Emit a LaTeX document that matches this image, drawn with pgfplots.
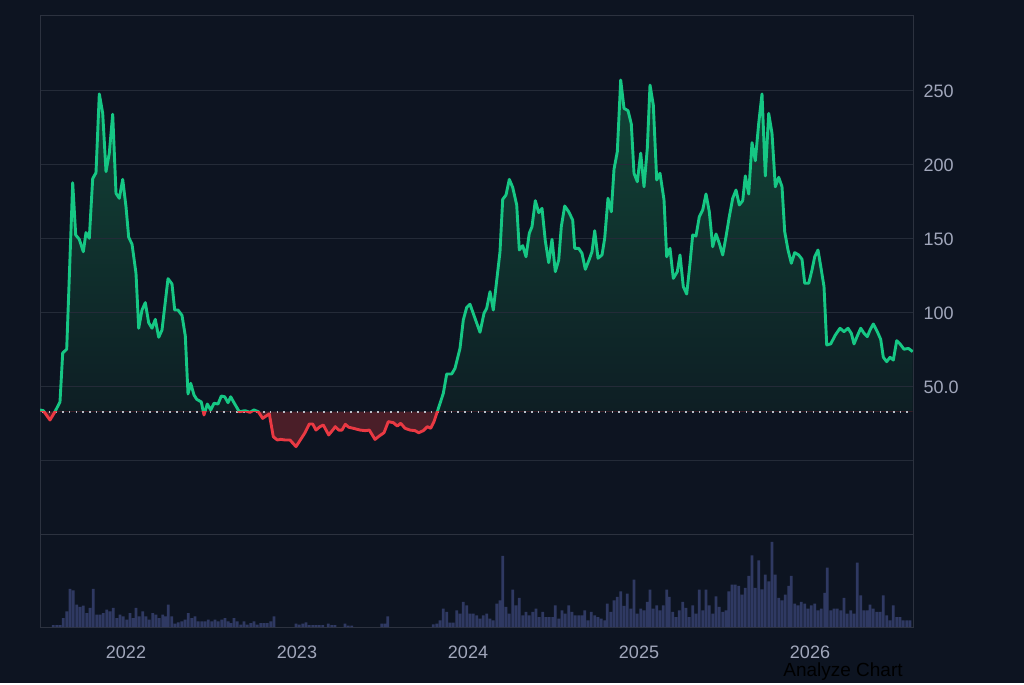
\documentclass[border=0pt]{standalone}
\usepackage{fontspec}
\setmainfont{Liberation Sans}
\usepackage{pgfplots}
\usepackage{pgfplotstable}
\pgfplotsset{compat=1.18}
\definecolor{bg}{RGB}{13,20,33}
\definecolor{gridc}{RGB}{36,43,56}
\definecolor{framec}{RGB}{44,50,63}
\definecolor{lbl}{RGB}{161,167,187}
\definecolor{up}{RGB}{22,199,132}
\definecolor{dn}{RGB}{234,57,67}
\definecolor{upfillA}{RGB}{18,68,55}
\definecolor{upfillB}{RGB}{13,26,34}
\definecolor{dnfill}{RGB}{74,30,40}
\definecolor{vol}{RGB}{47,57,98}
\definecolor{basec}{RGB}{185,190,200}

\pgfplotstableread{
x y
40 34.5
43.3 34.0
50 27.7
55 33.3
60 40.0
62.7 73.0
66.7 75.5
72.7 188.0
75.7 152.7
79.3 149.8
83.3 141.4
86 154.3
89.3 150.5
92.7 190.8
96 194.8
99.3 248.0
102.7 235.0
106 195.5
109.3 208.0
112.7 234.3
116 180.9
119.3 177.5
122.7 190.3
126 171.8
128.7 151.1
132 146.6
136 126.8
138.7 89.7
142 102.0
145.3 107.0
148.7 93.4
152 89.7
155.3 95.7
158.7 83.6
162 88.5
168 123.2
172 119.6
174.7 102.0
178 102.0
182 98.4
185.3 84.5
188 45.3
190.7 52.5
194 44.6
196.7 41.7
201.3 39.9
204 31.1
207.3 38.5
210.7 34.5
214 39.0
218 38.5
221.3 43.9
224.7 43.4
228 39.4
230.7 43.4
234 39.4
239.3 33.3
245 34.0
250 32.9
254 34.5
258.3 33.3
262.7 28.8
266 30.4
269.3 31.8
273.3 16.4
277.3 14.2
280.7 14.6
285 14.2
290 14.2
296 9.7
300.7 14.6
305 19.1
309.3 25.0
312.7 25.0
316 20.9
320 23.2
323.3 24.3
328.7 17.6
332.7 20.9
335.3 23.2
338.7 20.9
342 20.9
345.3 24.8
348.7 22.8
353.3 22.1
360 20.9
365.3 20.5
369.3 20.9
375 14.6
379.3 16.9
384 19.1
388.3 26.6
393.3 25.9
397.3 23.6
400.7 25.5
405 22.1
410 20.9
415 20.5
418.7 19.1
423.3 20.5
427.3 23.2
430.7 22.1
434 26.6
437.3 33.3
443.3 45.7
446.7 58.8
451.7 58.8
455 62.6
460 76.1
463.3 95.3
466.7 103.8
470 105.9
475 96.4
480 87.0
484 99.8
486.7 103.2
490 114.4
493.3 102.0
500 141.4
502.7 176.8
506 179.7
509.3 190.3
512.7 184.9
516.7 173.0
519.3 142.6
522.7 145.5
526 138.0
529.3 153.9
532 158.3
535.3 175.9
538.7 167.8
542 170.7
545.3 148.8
548.7 134.0
552 149.8
555.3 127.9
558.7 135.8
561.3 158.3
564.7 172.3
568.7 168.4
572.7 162.8
574.7 143.7
578.7 143.7
582 140.3
585.3 129.5
589.3 136.3
592 141.4
594.7 155.6
598 137.0
602 139.2
604.7 150.5
608 177.5
611.3 168.4
614 197.1
617.3 209.0
620.7 257.4
624 238.3
628 236.7
631.3 227.7
634 194.4
637.3 188.7
640.7 208.0
644 185.3
647.3 211.3
650 254.0
653.3 240.5
656.7 189.9
660 194.4
664 176.4
666.7 138.0
670 143.7
673.3 123.4
677.3 127.9
680 139.2
683.3 117.8
686.7 112.8
690 133.6
692.7 152.7
696 152.0
699.3 165.1
702.7 169.6
706 180.4
709.3 168.4
712.7 144.8
716 153.4
719.3 147.1
722.7 139.2
726 151.6
729.3 165.1
732.7 177.5
736 183.1
739.3 173.0
742.7 175.9
745.3 192.6
748.7 180.4
752 215.1
755.3 202.9
758.7 228.2
762 248.0
765.3 192.6
768.7 234.9
772 221.4
775.3 185.3
778.7 191.7
782 185.3
784.7 154.9
788 142.6
791.3 133.6
794.7 140.8
798.7 139.2
802 136.3
804.7 120.1
808.7 120.1
812 129.1
814.7 138.0
818 142.6
821.3 129.1
824 117.8
826.7 78.4
830.7 79.1
835.3 85.1
840 89.7
844 87.4
848 89.7
851.3 86.3
854 79.1
857.3 84.5
860.7 89.7
864 86.3
867.3 84.0
870 88.5
873.3 92.6
877.3 87.4
880.7 82.2
883.3 70.1
886.7 67.1
890 70.1
893.3 68.2
896.7 81.3
900 79.1
904 75.5
908.3 76.1
912.7 73.9
}\price

\pgfplotstableread{
x h
53.3 2
56.7 2
60 2
63.3 9
66.7 15.7
70 38
73.3 36.7
76.7 22.3
80 20
83.3 21.3
86.7 14
90 19
93.3 38
96.7 12.3
100 12.3
103.3 14
106.7 17.3
110 15.7
113.3 19
116.7 9
120 12.3
123.3 10.7
126.7 7.3
130 14
133.3 9
136 19
139.3 10.7
142.7 15.7
146 10.7
149.3 7.3
152.7 14
156 12.3
159.3 9
162.7 12.3
165.3 10.7
168.3 22.3
171.7 10.7
175 3.3
178.3 4.7
181.7 5.7
185 7.3
188.3 14
191.7 9
195 10.7
198.3 5.7
201.7 5.7
205 5.7
208.3 7.3
211.7 5.7
215 7.3
218.3 5.7
221.7 7.3
225 9
228.3 5.7
230.7 4
234 9
237.3 5.7
240.7 2.3
244 5.7
247.3 2.3
250.7 4
254 5.7
257.3 2.3
260.7 4
264 4
267.3 4
270.7 5.7
274 10.7
296 3.3
299.3 2.3
302.7 3.3
306 4.7
309.3 2
312.7 2
316 2
319.3 2
322.7 2
328.3 3.3
331.7 2
335 2
345 3.3
348.3 1.3
351.7 1.3
381.7 3.3
385 3.3
387.7 10.7
433.3 2.7
436.7 3.3
440 6.7
443.3 18.3
446.7 15
450 4.3
453.3 4.3
456.7 16.7
460 13.3
463.3 25
466.7 21.7
470 13.3
473.3 13.3
476.7 11.7
480 8.3
483.3 11.7
486.7 13.3
490 8.3
493.3 6.7
496.7 23.3
500 26.7
502.7 71
506 20
509.3 13.3
512.7 37.3
516 21.7
519.3 29
522.7 11.7
526 15
529.3 11.7
532.7 15
536 18.3
539.3 10
542.7 15
546 10
549.3 10
552.7 10
555.3 21.7
558.7 8.3
562 16.7
565.3 13.3
568.7 21.7
572 15
575.3 11.7
578.7 11.7
582 11.7
584.7 16.7
588 6.7
591.3 15
594.7 11.7
598 10
601.3 8.3
604.7 6.7
607.3 23.3
610.7 15
614 26.7
617.3 30
620.7 35.7
624 21
627.3 33.3
630.7 18.3
634 47.3
637.3 13.3
640.7 18.3
644 16.7
647.3 25
650 37.3
653.3 18.3
656.7 21.7
660 16.7
663.3 21.7
666.7 37.3
669.3 30
672.7 15
676 10
679.3 16.7
682.7 25
686 19
689.3 10
692.7 21.7
696 13.3
699.3 37.3
702.7 16.7
706 37.3
709.3 21.7
712.7 13.3
716 30.7
719.3 20
722.7 15
726 16.7
728.7 35.7
732 42.3
735.3 42.3
738.7 41
742 32.3
745.3 39
748.7 51
752 71.7
755.3 39
758.7 66.7
762 37.7
765.3 52.3
768.7 45.7
772 85
775.3 52.3
778.7 29
782 26.7
785.3 32.3
788.7 41
791.3 51
794.7 23.3
798 21.7
801.3 25
804.7 23.3
808 18.3
811.3 21.7
814.7 23.3
818 16.7
821.3 18.3
824.7 34
827.3 59.3
830.7 16.7
834 18.3
837.3 18.3
840.7 16.7
844 29
847.3 13.3
850.7 16.7
854 13.3
857.3 64.3
860.7 31.7
864 16.7
867.3 16.7
870 22.3
873.3 18.3
876.7 15
880 15
883.3 31.7
886.7 11.7
890 6.7
893.3 21.7
896.7 10
900 10
903.3 6.7
906.7 6.7
910 6.7
}\volume

\pgfplotsset{
  base/.style={scale only axis, width=873pt, xmin=40, xmax=913,
    anchor=south west, enlargelimits=false},
  upper/.style={base, hide axis, at={(40pt,271.28pt)}, height=395.72pt,
    ymin=33.3, ymax=300.68},
  lower/.style={base, hide axis, at={(40pt,148pt)}, height=123.28pt,
    ymin=-50, ymax=33.3},
}

\begin{document}
\begin{tikzpicture}
\fill[bg] (0pt,0pt) rectangle (1024pt,683pt);

% green area (above baseline)
\begin{axis}[upper]
\addplot[draw=none, top color=upfillA, bottom color=upfillB]
  table[x=x,y=y] {\price} -- (axis cs:912.7,33.3) -- (axis cs:40,33.3) -- cycle;
\end{axis}
% red area (below baseline)
\begin{axis}[lower]
\addplot[draw=none, fill=dnfill]
  table[x=x,y=y] {\price} -- (axis cs:912.7,33.3) -- (axis cs:40,33.3) -- cycle;
\end{axis}

% price pane: frame, grid, labels, baseline
\begin{axis}[base, at={(40pt,148pt)}, height=519pt,
  ymin=-50, ymax=300.68,
  axis line style={framec, line width=1pt},
  xtick=\empty,
  ytick={0,50,100,150,200,250},
  yticklabels={,50.0,100,150,200,250},
  yticklabel pos=right,
  ymajorgrids, grid style={gridc, line width=1pt},
  ytick style={draw=none},
  /pgf/number format/assume math mode=true,
  yticklabel style={font=\fontsize{18}{21}\selectfont, text=lbl, anchor=west, xshift=7pt}]
\addplot[basec, line width=1.6pt, dash pattern=on 1.6pt off 5.1pt] coordinates {(42,33.3) (911,33.3)};
\end{axis}

% green line
\begin{axis}[upper]
\addplot[up, line width=2.9pt, line join=round] table[x=x,y=y] {\price};
\end{axis}
% red line
\begin{axis}[lower]
\addplot[dn, line width=2.9pt, line join=round] table[x=x,y=y] {\price};
\end{axis}

% volume pane
\begin{axis}[base, at={(40pt,56pt)}, height=92pt,
  ymin=0, ymax=92,
  axis line style={framec, line width=1pt},
  ytick=\empty,
  xtick={126,297,468,639,810},
  xticklabels={2022,2023,2024,2025,2026},
  xtick style={draw=none},
  /pgf/number format/assume math mode=true,
  xticklabel style={font=\fontsize{18}{21}\selectfont, text=lbl, yshift=-15pt}]
\addplot[ybar, bar width=2.7pt, draw=none, fill=vol] table[x=x,y=h] {\volume};
\end{axis}

\node[font=\fontsize{19}{22}\selectfont, text=black] at (843pt,11pt) {Analyze Chart};
\end{tikzpicture}
\end{document}
